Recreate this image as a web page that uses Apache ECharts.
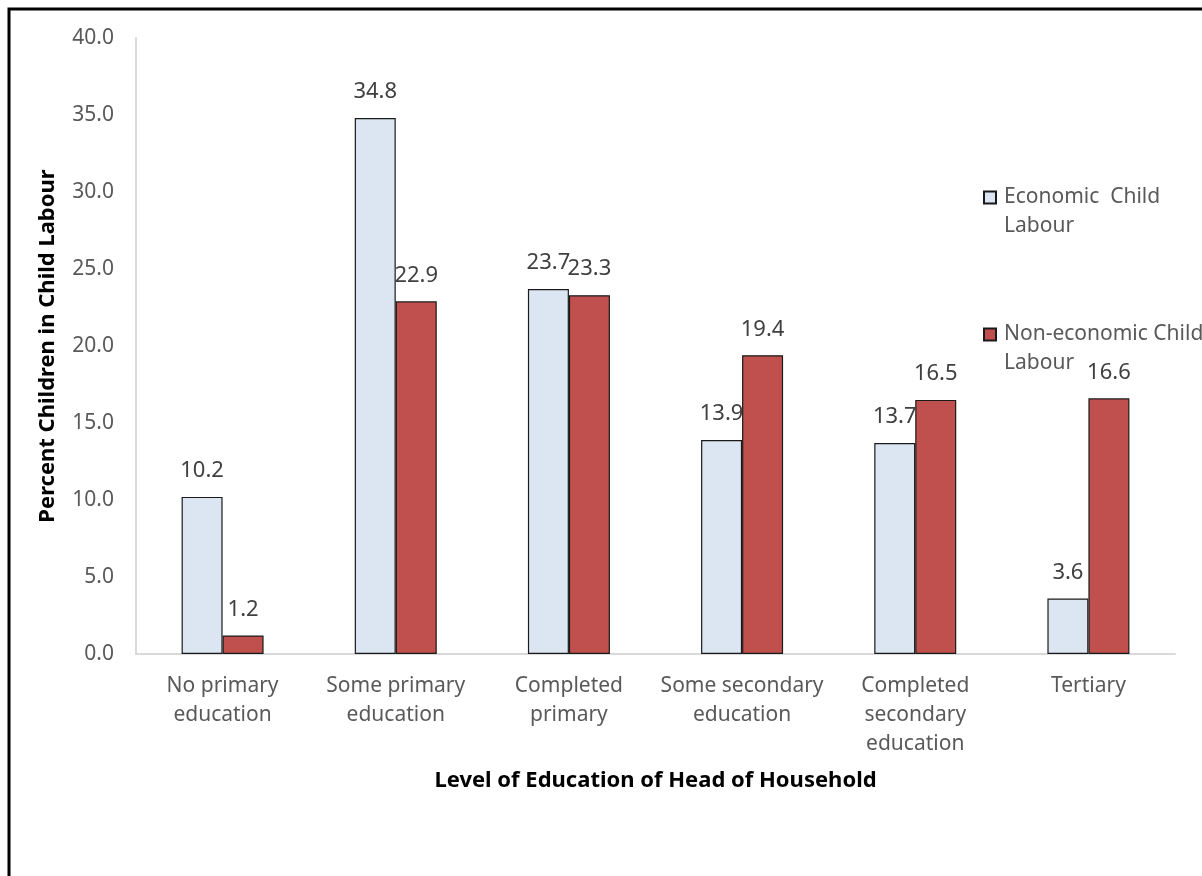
<!DOCTYPE html>
<html>
<head>
<meta charset="utf-8">
<script src="https://cdn.jsdelivr.net/npm/echarts@6/dist/echarts.min.js"></script>
<style>
  html, body { margin: 0; padding: 0; background: #fff; }
  #chart { width: 1202px; height: 876px; }
</style>
</head>
<body>
<div id="chart"></div>
<script>
// Household head education level and child labour rates (%)
const categories = [
  'No primary\neducation',
  'Some primary\neducation',
  'Completed\nprimary',
  'Some secondary\neducation',
  'Completed\nsecondary\neducation',
  'Tertiary'
];
const economicLabour = [10.2, 34.8, 23.7, 13.9, 13.7, 3.6];
const nonEconomicLabour = [1.2, 22.9, 23.3, 19.4, 16.5, 16.6];
const seriesNames = ['Economic  Child\nLabour', 'Non-economic Child\nLabour'];

const FONT = '"Noto Sans", "Open Sans", sans-serif';
const GREY = '#595959';

// Legend swatch sits beside the first text line: a 12px square inside a
// 12x58 box (two 29px lines); the bare move-tos stretch the path's bounds.
const SWATCH = 'path://M0,8.5L12,8.5L12,20.5L0,20.5Z M0,0 M12,58';

const chart = echarts.init(document.getElementById('chart'), null, { renderer: 'canvas' });

const labelStyle = {
  show: true,
  position: 'top',
  distance: 15,
  color: '#404040',
  fontSize: 22,
  fontFamily: FONT,
  formatter: p => p.value.toFixed(1)
};

chart.setOption({
  animation: false,
  backgroundColor: '#fff',
  textStyle: { fontFamily: FONT },
  graphic: [{
    type: 'rect',
    shape: { x: 9, y: 9, width: 1205, height: 880 },
    style: { fill: 'none', stroke: '#000', lineWidth: 3 },
    silent: true
  }],
  grid: { left: 136, top: 38, right: 27, bottom: 222, containLabel: false },
  legend: {
    orient: 'vertical',
    left: 978,
    top: 177,
    itemWidth: 12,
    itemHeight: 58,
    itemGap: 77,
    icon: SWATCH,
    align: 'left',
    textStyle: { color: GREY, fontSize: 21, fontFamily: FONT, lineHeight: 29, padding: [0, 0, 0, 3] },
    data: seriesNames
  },
  xAxis: {
    type: 'category',
    data: categories,
    name: 'Level of Education of Head of Household',
    nameLocation: 'middle',
    nameGap: 116,
    nameTextStyle: { color: '#000', fontSize: 22, fontWeight: 'bold', fontFamily: FONT },
    axisLine: { show: true, lineStyle: { color: '#D9D9D9', width: 2 } },
    axisTick: { show: false },
    axisLabel: { color: GREY, fontSize: 21, fontFamily: FONT, lineHeight: 29, margin: 18, interval: 0 }
  },
  yAxis: {
    type: 'value',
    min: 0,
    max: 40,
    interval: 5,
    name: 'Percent Children in Child Labour',
    nameLocation: 'middle',
    nameGap: 77,
    nameTextStyle: { color: '#000', fontSize: 22, fontWeight: 'bold', fontFamily: FONT },
    axisLine: { show: true, lineStyle: { color: '#D9D9D9', width: 2 } },
    axisTick: { show: false },
    splitLine: { show: false },
    axisLabel: { color: GREY, fontSize: 21, fontFamily: FONT, margin: 22, formatter: v => v.toFixed(1) }
  },
  series: [
    {
      name: seriesNames[0],
      type: 'bar',
      data: economicLabour,
      barWidth: 41,
      barGap: '0%',
      itemStyle: { color: '#DCE6F2', borderColor: '#1a1a1a', borderWidth: 1.2 },
      label: labelStyle
    },
    {
      name: seriesNames[1],
      type: 'bar',
      data: nonEconomicLabour,
      barWidth: 41,
      barGap: '0%',
      itemStyle: { color: '#C0504D', borderColor: '#1a1a1a', borderWidth: 1.2 },
      label: labelStyle
    }
  ]
});
</script>
</body>
</html>
